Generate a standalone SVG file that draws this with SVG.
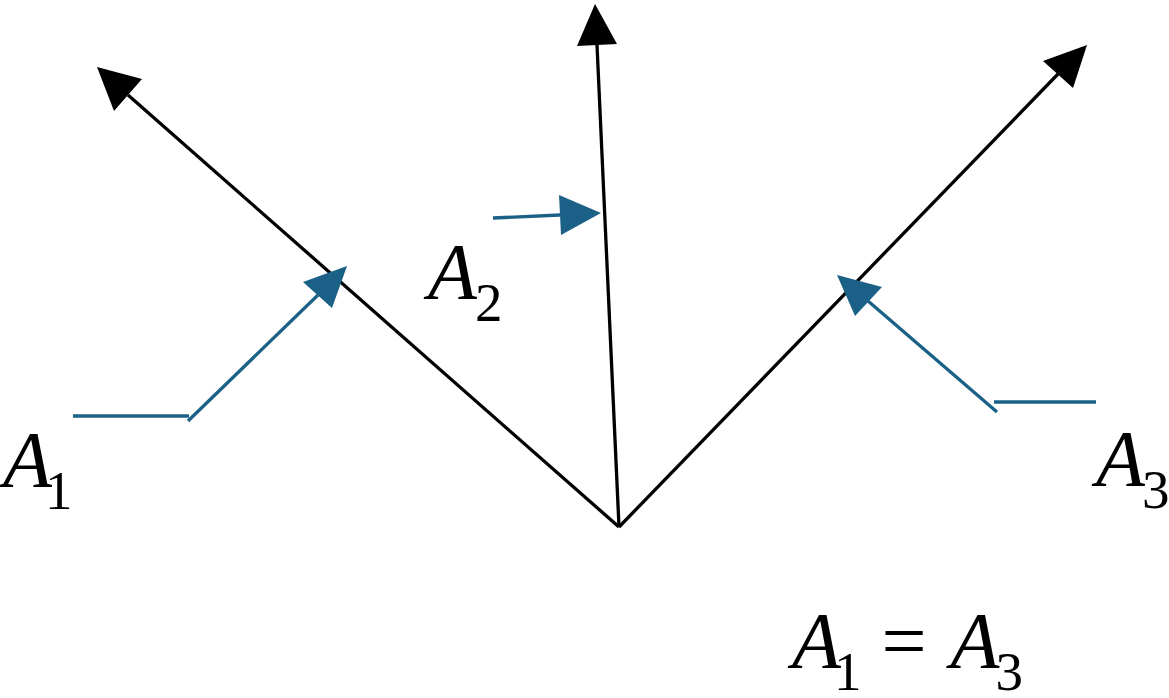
<svg xmlns="http://www.w3.org/2000/svg" width="1169" height="698" viewBox="0 0 1169 698">
<style>
.blk{stroke:#000;stroke-width:3.3;fill:none}
.blu{stroke:#1b6187;stroke-width:3.3;fill:none}
.hb{fill:#000}
.hu{fill:#1b6187}
text{font-family:'Liberation Serif','Times New Roman',Times,'DejaVu Serif',serif;font-size:80px;fill:#000}
.it{font-style:italic}
.sub{font-size:55px}
</style>
<rect width="1169" height="698" fill="#fff"/>
<g id="connectors">
<line class="blk" x1="619" y1="527" x2="128" y2="95"/>
<polygon class="hb" points="97,67 142,79 114,111"/>
<line class="blk" x1="619" y1="527" x2="597" y2="45"/>
<polygon class="hb" points="595,4 577,46 617,44"/>
<line class="blk" x1="619" y1="527" x2="1058" y2="74"/>
<polygon class="hb" points="1087,45 1043,61 1073,88"/>
<polyline class="blu" points="73,416 189,416"/>
<line class="blu" x1="188" y1="421" x2="318" y2="295"/>
<polygon class="hu" points="347,266 303,282 332,308"/>
<line class="blu" x1="493" y1="218" x2="560" y2="215"/>
<polygon class="hu" points="601,213 559,195 561,235"/>
<line class="blu" x1="994" y1="402" x2="1096" y2="402"/>
<line class="blu" x1="997" y1="412" x2="868" y2="301"/>
<polygon class="hu" points="837,275 882,287 855,316"/>
</g>
<g id="label-A1"><text x="3" y="487"><tspan class="it">A</tspan><tspan class="sub" dx="-7" dy="22">1</tspan></text></g>
<g id="label-A2"><text x="428" y="299"><tspan class="it">A</tspan><tspan class="sub" dx="-2" dy="22">2</tspan></text></g>
<g id="label-A3"><text x="1096" y="486"><tspan class="it">A</tspan><tspan class="sub" dx="-3" dy="22">3</tspan></text></g>
<g id="equation"><text x="792" y="668"><tspan class="it">A</tspan><tspan class="sub" dx="-7" dy="22">1</tspan><tspan dy="-22" dx="20">=</tspan><tspan class="it" dx="24">A</tspan><tspan class="sub" dx="-4" dy="22">3</tspan></text></g>
</svg>
